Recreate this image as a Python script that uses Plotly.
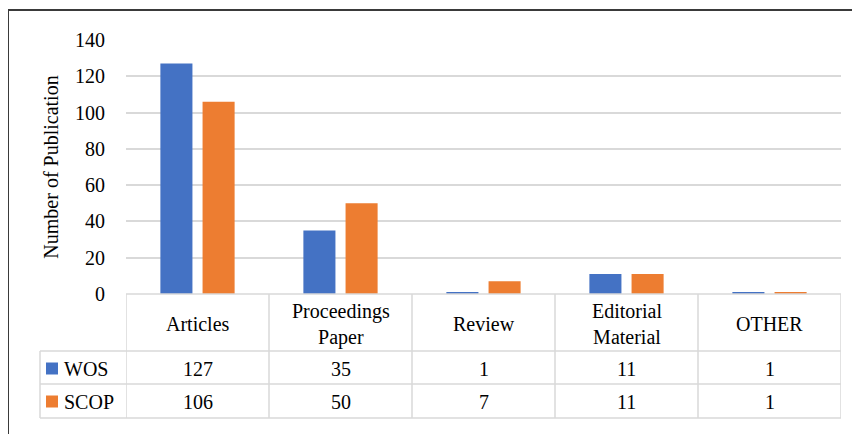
import plotly.graph_objects as go

categories = ["Articles", "Proceedings<br>Paper", "Review", "Editorial<br>Material", "OTHER"]
series_names = ["WOS", "SCOP"]
wos = [127, 35, 1, 11, 1]
scop = [106, 50, 7, 11, 1]
colors = ["#4472C4", "#ED7D31"]
y_ticks = [0, 20, 40, 60, 80, 100, 120, 140]

OFF = 8  # page body margin
W, H = 860 - OFF, 434 - OFF
L, R, T, B = 126 - OFF, 841 - OFF, 40 - OFF, 294 - OFF  # plot area in figure pixels

def px(x):
    return (x - OFF - L) / (R - L)

def py(y):
    return (B - (y - OFF)) / (B - T)

FONT = "Liberation Serif, Times New Roman, serif"
GRID = "#d9d9d9"

fig = go.Figure()
for name, vals, col in zip(series_names, [wos, scop], colors):
    fig.add_trace(go.Bar(x=list(range(len(categories))), y=vals, name=name,
                         marker=dict(color=col, line=dict(width=0))))

shapes = []
shapes.append(dict(type="line", xref="paper", yref="paper", x0=px(8), x1=px(870), y0=py(10), y1=py(10),
                   line=dict(color="#3a3a3a", width=2)))
shapes.append(dict(type="line", xref="paper", yref="paper", x0=px(8), x1=px(8), y0=py(10), y1=py(445),
                   line=dict(color="#3a3a3a", width=2)))
row_lines = [294, 351, 384, 418]
for i, y in enumerate(row_lines):
    x0 = 126 if i == 0 else 40
    shapes.append(dict(type="line", xref="paper", yref="paper", x0=px(x0), x1=px(841), y0=py(y), y1=py(y),
                       line=dict(color=GRID, width=1.5)))
n = len(categories)
for k in range(n + 1):
    shapes.append(dict(type="line", xref="x", yref="paper", x0=k - 0.5, x1=k - 0.5, y0=py(294), y1=py(418),
                       line=dict(color=GRID, width=1.5)))
shapes.append(dict(type="line", xref="paper", yref="paper", x0=px(40), x1=px(40), y0=py(351), y1=py(418),
                   line=dict(color=GRID, width=1.5)))

annotations = []
tf = dict(family=FONT, size=20, color="#000000")
for k, c in enumerate(categories):
    annotations.append(dict(x=k, y=py(324), xref="x", yref="paper", text=c, showarrow=False,
                            xanchor="center", yanchor="middle", font=tf))
row_centers = [368.5, 401.5]
for r, (name, vals, col) in enumerate(zip(series_names, [wos, scop], colors)):
    yc = row_centers[r]
    for k, v in enumerate(vals):
        annotations.append(dict(x=k, y=py(yc), xref="x", yref="paper", text=str(v), showarrow=False,
                                xanchor="center", yanchor="middle", font=tf))
    annotations.append(dict(x=px(62), y=py(yc), xref="paper", yref="paper", text=name, showarrow=False,
                            xanchor="left", yanchor="middle", font=tf))
    shapes.append(dict(type="rect", xref="paper", yref="paper", x0=px(46), x1=px(58),
                       y0=py(yc - 6), y1=py(yc + 6), fillcolor=col, line=dict(width=0)))

fig.update_layout(
    width=W, height=H,
    margin=dict(l=L, r=W - R, t=T, b=H - B, pad=0),
    paper_bgcolor="white", plot_bgcolor="white",
    barmode="group", bargap=0.41, bargroupgap=0.24,
    showlegend=False,
    font=dict(family=FONT, size=20, color="#000000"),
    xaxis=dict(range=[-0.5, n - 0.5], showticklabels=False, showgrid=False, zeroline=False,
               showline=False, ticks=""),
    yaxis=dict(range=[0, 140], tickvals=y_ticks, showgrid=True, gridcolor=GRID, gridwidth=1.5,
               zeroline=False, showline=False, ticks="", ticklabelstandoff=20,
               tickfont=dict(family=FONT, size=20, color="#000000"),
               title=dict(text="Number of Publication", standoff=11,
                          font=dict(family=FONT, size=20, color="#000000"))),
    shapes=shapes, annotations=annotations,
)

fig.write_html("out.html")
